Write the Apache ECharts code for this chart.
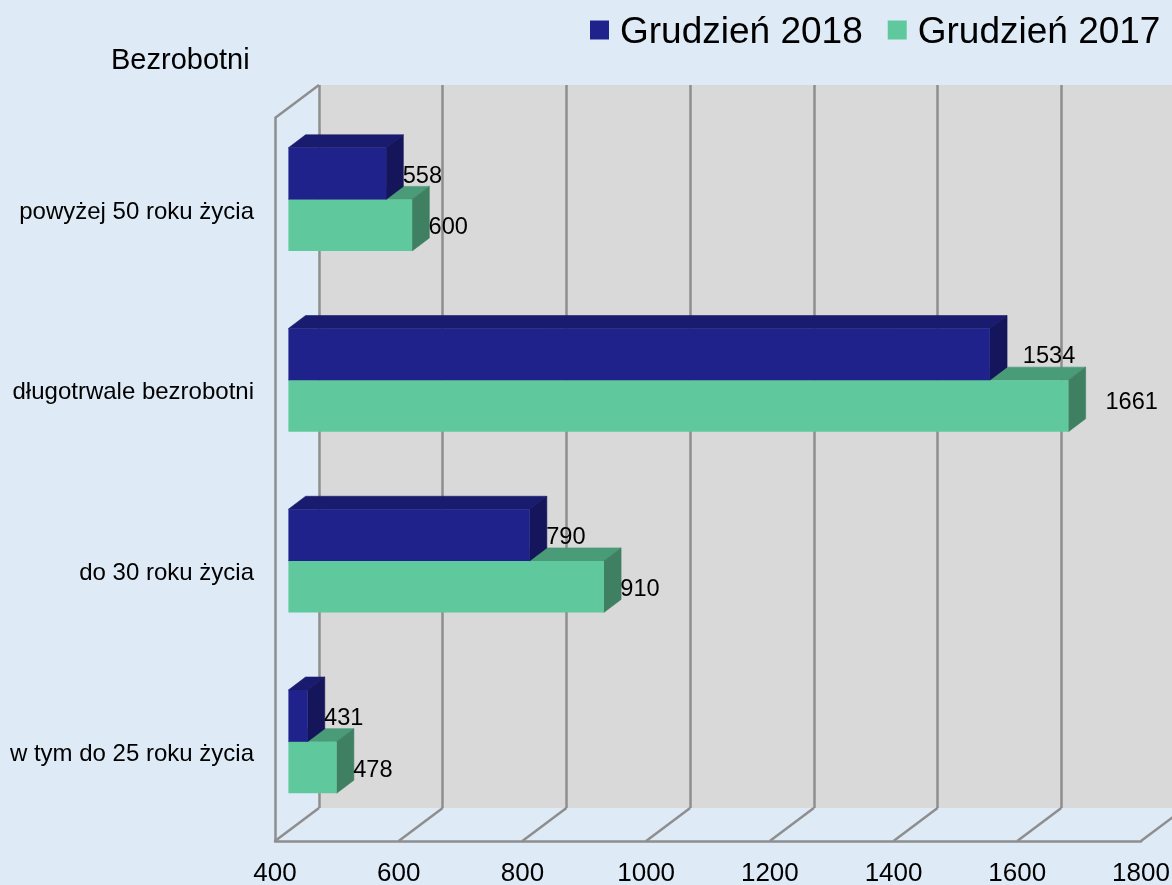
<!DOCTYPE html>
<html>
<head>
<meta charset="utf-8">
<script src="https://cdn.jsdelivr.net/npm/echarts@6/dist/echarts.min.js"></script>
<style>html,body{margin:0;padding:0;background:#deeaf6}#c{width:1172px;height:885px}</style>
</head>
<body>
<div id="c"></div>
<script>
const categories = ['w tym do 25 roku życia', 'do 30 roku życia', 'długotrwale bezrobotni', 'powyżej 50 roku życia'];
const values2018 = [431, 790, 1534, 558];
const values2017 = [478, 910, 1661, 600];
const ticks = [400, 600, 800, 1000, 1200, 1400, 1600, 1800];
const yTitle = 'Bezrobotni';
const name2018 = 'Grudzień 2018';
const name2017 = 'Grudzień 2017';

const FONT = '"Liberation Sans", Arial, sans-serif';
const GRAY = '#8e8e8e';
const chart = echarts.init(document.getElementById('c'));

function barRender(opts) {
  return function (params, api) {
    const v = api.value(0), c = api.value(1);
    const end = api.coord([v, c]);
    const start = api.coord([ticks[0], c]);
    const x0 = start[0] + 13.4, x1 = end[0] + 13.4;
    const cy = end[1] - 9;
    const h = 51.6;
    const y0 = opts.first ? cy - h : cy, y1 = y0 + h;
    const dx = 17.2, dy = -13;
    const far = v > 1000;
    const gap = far ? opts.farGap : 16.5;
    const lift = far ? opts.farLift : 0;
    const edge = c2 => ({ fill: c2, stroke: c2, lineWidth: 0.6 });
    return {
      type: 'group',
      children: [
        { type: 'polygon', shape: { points: [[x0, y0], [x1, y0], [x1 + dx, y0 + dy], [x0 + dx, y0 + dy]] }, style: edge(opts.top) },
        { type: 'polygon', shape: { points: [[x1, y0], [x1 + dx, y0 + dy], [x1 + dx, y1 + dy], [x1, y1]] }, style: edge(opts.side) },
        { type: 'rect', shape: { x: x0, y: y0, width: x1 - x0, height: h }, style: { fill: opts.front } },
        { type: 'text', z2: 50, style: { text: String(v), x: x1 + gap, y: (y0 + y1) / 2 + 2.6 + lift, fill: '#000', font: '23.6px ' + FONT, textAlign: 'left', textVerticalAlign: 'middle' } }
      ]
    };
  };
}

function floorRender(params, api) {
  const p = api.coord([api.value(0), 0]);
  const cs = params.coordSys;
  const bottom = cs.y + cs.height;
  const lineStyle = { stroke: GRAY, lineWidth: 2.5, fill: null };
  const children = [
    { type: 'line', shape: { x1: p[0], y1: bottom, x2: p[0] + 44, y2: bottom - 33 }, style: lineStyle }
  ];
  if (api.value(0) === ticks[0]) {
    children.push({ type: 'line', shape: { x1: p[0], y1: cs.y, x2: p[0] + 44, y2: cs.y - 33 }, style: lineStyle });
  }
  return { type: 'group', children: children };
}

chart.setOption({
  animation: false,
  backgroundColor: '#deeaf6',
  title: {
    text: yTitle, left: 106, top: 41,
    textStyle: { fontFamily: FONT, fontSize: 29, fontWeight: 'normal', color: '#000' }
  },
  legend: {
    left: 590, top: 14, padding: 0, itemWidth: 19, itemHeight: 24, itemGap: 25,
    data: [name2018, name2017],
    icon: 'path://M0 0H19V19H0Z M0 24L0 24Z',
    textStyle: { fontFamily: FONT, fontSize: 37, color: '#000', padding: [0, 0, 0, 6] }
  },
  grid: [
    { left: 319, top: 85, width: 866, height: 723, show: true, backgroundColor: '#d9d9d9', borderWidth: 0, outerBoundsMode: 'none' },
    { left: 275, top: 118, width: 866, height: 723, show: false, outerBoundsMode: 'none' }
  ],
  xAxis: [
    {
      type: 'value', gridIndex: 0, min: 400, max: 1800, interval: 200,
      axisLine: { show: false }, axisTick: { show: false }, axisLabel: { show: false },
      splitLine: { show: true, lineStyle: { color: GRAY, width: 2.5 } }
    },
    {
      type: 'value', gridIndex: 1, min: 400, max: 1800, interval: 200,
      axisLine: { show: true, lineStyle: { color: GRAY, width: 2.5 } },
      axisTick: { show: false }, splitLine: { show: false },
      axisLabel: { color: '#000', fontFamily: FONT, fontSize: 26, margin: 20, formatter: v => String(v) }
    }
  ],
  yAxis: [
    { type: 'category', gridIndex: 0, data: categories, show: false },
    {
      type: 'category', gridIndex: 1, data: categories,
      axisLine: { show: true, lineStyle: { color: GRAY, width: 2.5 } },
      axisTick: { show: false }, splitLine: { show: false },
      axisLabel: { color: '#000', fontFamily: FONT, fontSize: 24, margin: 21, verticalAlign: 'top', lineHeight: 7 }
    }
  ],
  series: [
    {
      type: 'custom', name: 'floor', xAxisIndex: 1, yAxisIndex: 1, z: 1, clip: false,
      data: ticks.map(t => [t, 0]), renderItem: floorRender, silent: true
    },
    {
      type: 'custom', name: name2017, xAxisIndex: 1, yAxisIndex: 1, z: 3, clip: false,
      itemStyle: { color: '#5fc99d' },
      data: values2017.map((v, i) => [v, i]),
      renderItem: barRender({ first: false, front: '#5fc99d', top: '#4a9b78', side: '#3f7f62', farGap: 37, farLift: -6.5 })
    },
    {
      type: 'custom', name: name2018, xAxisIndex: 1, yAxisIndex: 1, z: 4, clip: false,
      itemStyle: { color: '#20228b' },
      data: values2018.map((v, i) => [v, i]),
      renderItem: barRender({ first: true, front: '#20228b', top: '#191b6e', side: '#14155a', farGap: 33, farLift: 0 })
    }
  ]
});
</script>
</body>
</html>
